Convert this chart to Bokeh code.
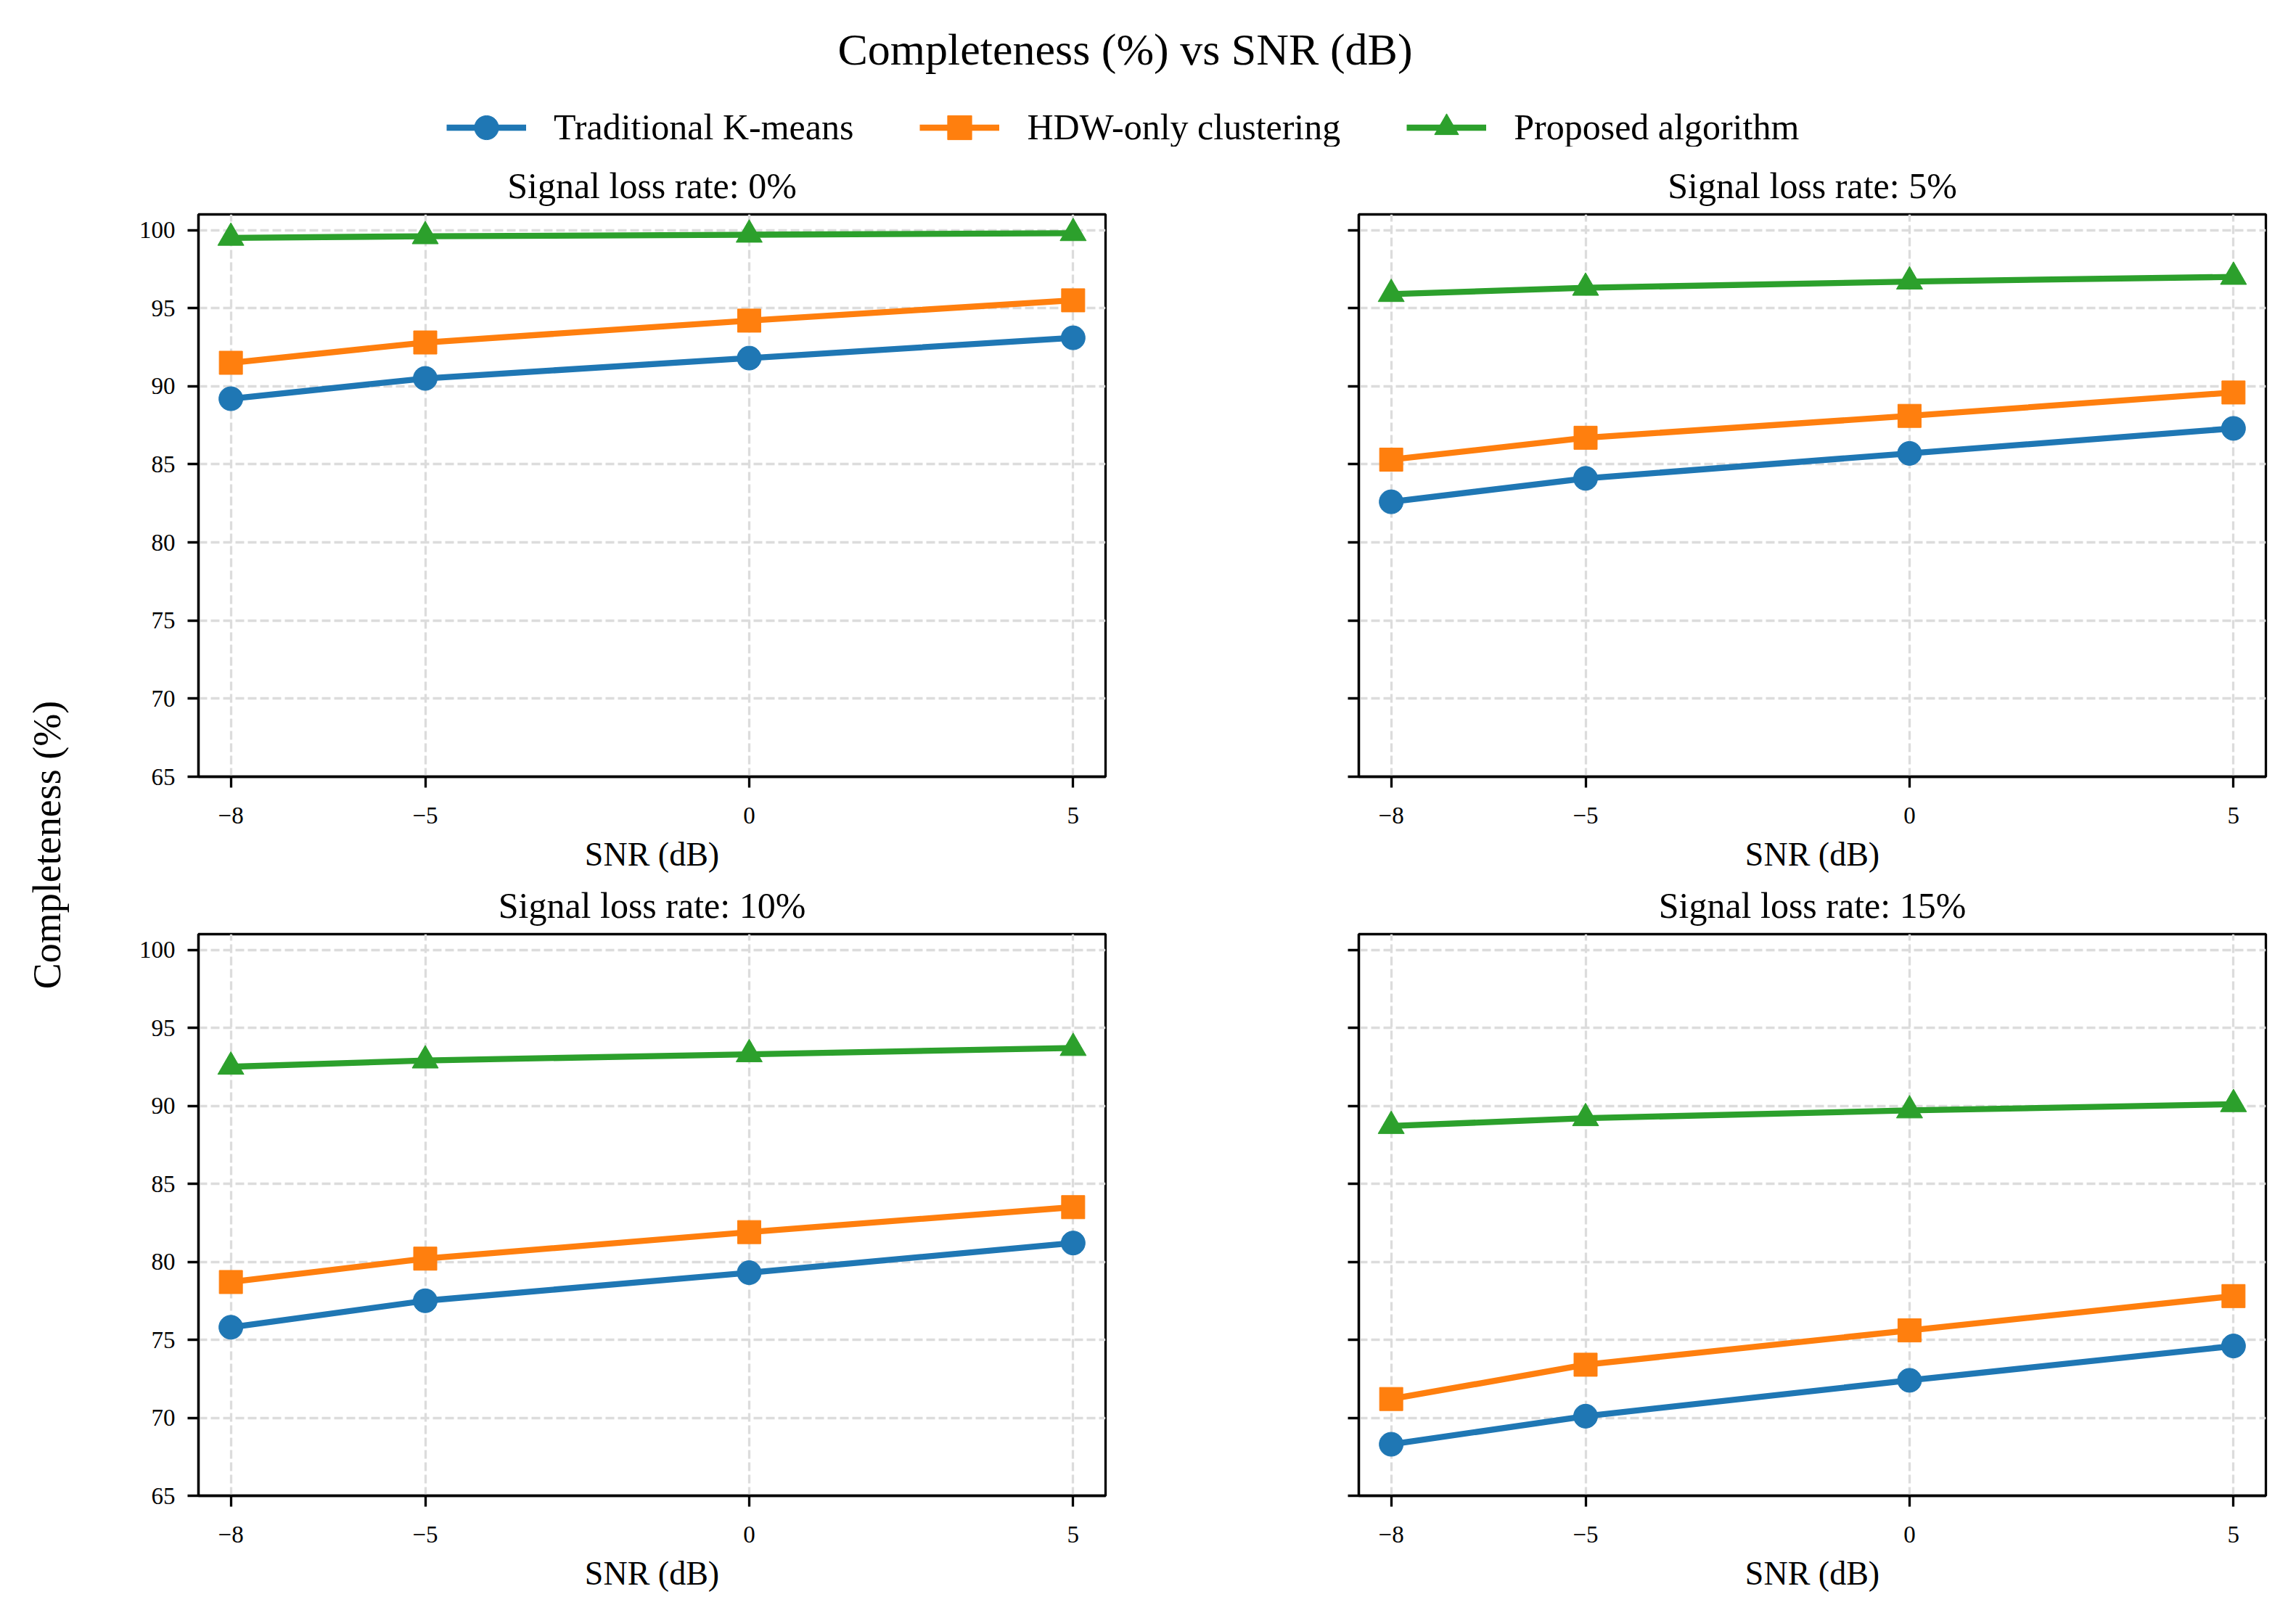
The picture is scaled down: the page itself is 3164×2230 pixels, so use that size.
from math import pi
from bokeh.plotting import figure
from bokeh.layouts import column, row
from bokeh.models import (Range1d, FixedTicker, Legend, LegendItem, Label,
                          ColumnDataSource)
from bokeh.embed import file_html
from bokeh.resources import INLINE

# ---------------- data ----------------
snr = [-8, -5, 0, 5]
loss_rates = ["0%", "5%", "10%", "15%"]
y_ticks = [65, 70, 75, 80, 85, 90, 95, 100]
x_tick_labels = {-8: "\u22128", -5: "\u22125", 0: "0", 5: "5"}

series_names = ["Traditional K-means", "HDW-only clustering", "Proposed algorithm"]
series_colors = ["#1f77b4", "#ff7f0e", "#2ca02c"]
series_markers = ["circle", "square", "triangle"]

kmeans = [
    [89.2, 90.5, 91.8, 93.1],
    [82.6, 84.1, 85.7, 87.3],
    [75.8, 77.5, 79.3, 81.2],
    [68.3, 70.1, 72.4, 74.6],
]
hdw_only = [
    [91.5, 92.8, 94.2, 95.5],
    [85.3, 86.7, 88.1, 89.6],
    [78.7, 80.2, 81.9, 83.5],
    [71.2, 73.4, 75.6, 77.8],
]
proposed = [
    [99.5, 99.6, 99.7, 99.8],
    [95.9, 96.3, 96.7, 97.0],
    [92.5, 92.9, 93.3, 93.7],
    [88.7, 89.2, 89.7, 90.1],
]
all_series = [kmeans, hdw_only, proposed]

FONT = "Liberation Serif"
LW = 8.3
MSIZE = {"circle": 33, "square": 32, "triangle": 36}


def make_panel(i):
    top_row = i < 2
    left_col = i % 2 == 0
    p = figure(
        frame_width=1250,
        frame_height=775 if top_row else 774,
        x_range=Range1d(-8.5, 5.5),
        y_range=Range1d(65, 101),
        min_border_left=123 if left_col else 172,
        min_border_right=177 if left_col else 34,
        min_border_top=93 if top_row else 78,
        min_border_bottom=0 if top_row else 161,
        output_backend="svg",
        toolbar_location=None,
        background_fill_color="white",
        border_fill_color="white",
    )
    p.outline_line_color = "black"
    p.outline_line_width = 3.3
    p.outline_line_alpha = 1.0

    p.title.text = f"Signal loss rate: {loss_rates[i]}"
    p.title.align = "center"
    p.title.text_font = FONT
    p.title.text_font_size = "50px"
    p.title.text_font_style = "normal"
    p.title.text_color = "black"
    p.title.standoff = 24

    for ax in (p.xaxis[0], p.yaxis[0]):
        ax.axis_line_color = "black"
        ax.axis_line_width = 3.3
        ax.major_tick_line_color = "black"
        ax.major_tick_line_width = 3.3
        ax.major_tick_out = 15
        ax.major_tick_in = 0
        ax.minor_tick_line_color = None
        ax.major_label_text_font = FONT
        ax.major_label_text_font_size = "33px"
        ax.major_label_text_color = "black"
    p.xaxis.major_label_standoff = 27
    p.yaxis.major_label_standoff = 17

    p.xaxis.ticker = FixedTicker(ticks=snr)
    p.xaxis.major_label_overrides = x_tick_labels
    p.xaxis.axis_label = "SNR (dB)"
    p.xaxis.axis_label_text_font = FONT
    p.xaxis.axis_label_text_font_size = "46px"
    p.xaxis.axis_label_text_font_style = "normal"
    p.xaxis.axis_label_text_color = "black"
    p.xaxis.axis_label_standoff = 14

    p.yaxis.ticker = FixedTicker(ticks=y_ticks)
    if not left_col:
        p.yaxis.major_label_overrides = {t: "" for t in y_ticks}

    for g in (p.xgrid[0], p.ygrid[0]):
        g.grid_line_color = "#dcdcdc"
        g.grid_line_width = 3.3
        g.grid_line_dash = "12 5"
    p.xgrid.ticker = FixedTicker(ticks=snr)
    p.ygrid.ticker = FixedTicker(ticks=y_ticks)

    for s, name in enumerate(series_names):
        src = ColumnDataSource(data=dict(x=snr, y=all_series[s][i]))
        p.line("x", "y", source=src, line_color=series_colors[s], line_width=LW)
        p.scatter("x", "y", source=src, marker=series_markers[s],
                  size=MSIZE[series_markers[s]],
                  fill_color=series_colors[s], line_color=series_colors[s])
    return p


panels = [make_panel(i) for i in range(4)]

# ---------------- header (title + legend) ----------------
HEADER_H = 202
header = figure(width=3156, height=HEADER_H, x_range=Range1d(0, 3156),
                y_range=Range1d(0, HEADER_H), min_border=0,
                x_axis_location=None, y_axis_location=None,
                output_backend="svg", toolbar_location=None,
                outline_line_color=None)
header.grid.visible = False
header.add_layout(Label(x=1550, y=135, x_units="screen", y_units="screen",
                        text="Completeness (%) vs SNR (dB)", text_align="center",
                        text_baseline="alphabetic", text_font=FONT,
                        text_font_size="62px", text_color="black"))

nan = float("nan")
items = []
for s, name in enumerate(series_names):
    src = ColumnDataSource(data=dict(x=[nan], y=[nan]))
    lr = header.line("x", "y", source=src, line_color=series_colors[s], line_width=LW)
    sr = header.scatter("x", "y", source=src, marker=series_markers[s], size=33,
                        fill_color=series_colors[s], line_color=series_colors[s])
    items.append(LegendItem(label=name, renderers=[lr, sr]))

legend = Legend(items=items, orientation="horizontal", location=(615, -14.5),
                label_text_font=FONT, label_text_font_size="50px",
                label_text_color="black", border_line_color=None,
                background_fill_alpha=0, padding=0, margin=0, spacing=91,
                label_standoff=38, glyph_width=110, glyph_height=83)
header.add_layout(legend)

# ---------------- shared y label ----------------
YLAB_H = 2020
ylab = figure(width=150, height=YLAB_H, x_range=Range1d(0, 150),
              y_range=Range1d(0, YLAB_H), min_border=0,
              x_axis_location=None, y_axis_location=None,
              output_backend="svg", toolbar_location=None,
              outline_line_color=None)
ylab.grid.visible = False
ylab.add_layout(Label(x=64, y=1058, x_units="screen", y_units="screen",
                      text="Completeness (%)", angle=pi / 2,
                      text_align="center", text_baseline="alphabetic",
                      text_font=FONT, text_font_size="54px", text_color="black"))

layout = column(header,
                row(ylab, column(row(panels[0], panels[1]),
                                 row(panels[2], panels[3]))))

open("out.html", "w").write(file_html(layout, INLINE))
